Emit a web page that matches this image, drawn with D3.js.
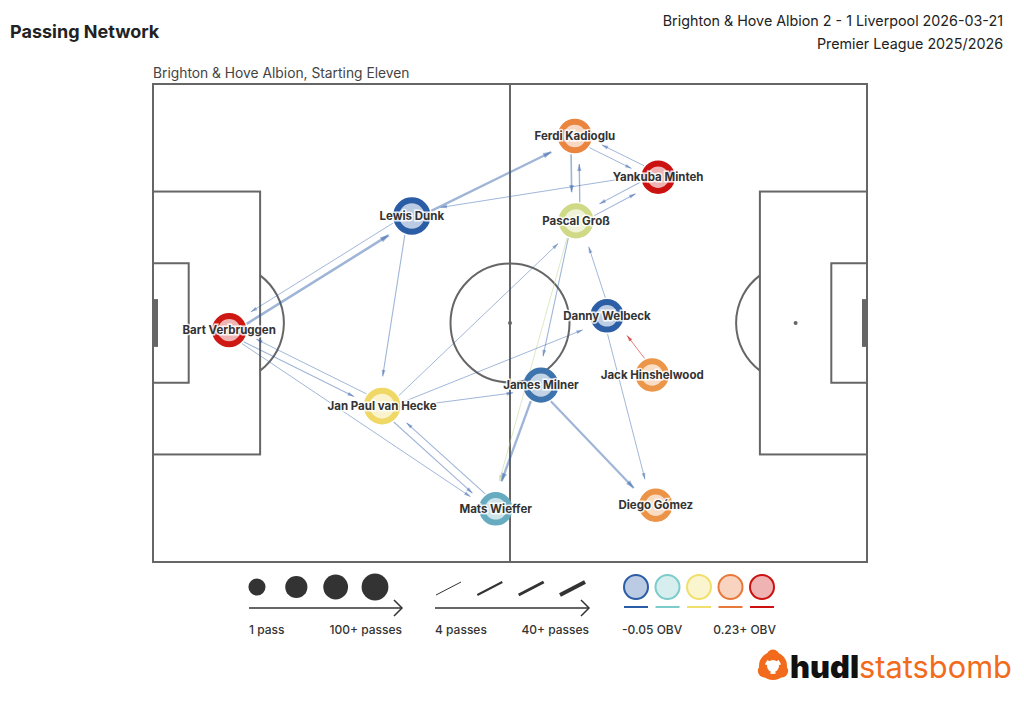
<!DOCTYPE html>
<html><head><meta charset="utf-8">
<script src="https://cdn.jsdelivr.net/npm/d3@7"></script>
<style>
body{margin:0;background:#fff;}
text{font-family:Inter,"Noto Sans",sans-serif;}
</style></head>
<body><svg id="c" width="1024" height="706"></svg>
<script>
// ---------- data ----------
const players   = ["Bart Verbruggen","Lewis Dunk","Ferdi Kadioglu","Yankuba Minteh","Pascal Groß","Danny Welbeck","Jack Hinshelwood","James Milner","Jan Paul van Hecke","Mats Wieffer","Diego Gómez"];
const playerX   = [12.8, 43.5, 70.9, 84.9, 71.1, 76.3, 83.9, 65.2, 38.5, 57.6, 84.5];
const playerY   = [41.2, 22.1, 8.7, 15.6, 22.9, 38.8, 48.7, 50.4, 53.9, 71.1, 70.5];
const playerPasses = [42, 50, 42, 40, 44, 40, 40, 44, 48, 40, 40];
const playerOBV = [0.225, -0.05, 0.152, 0.23, 0.07, -0.048, 0.14, -0.035, 0.095, 0.0, 0.142];

const edgeSource = ["Bart Verbruggen","Lewis Dunk","Bart Verbruggen","Jan Paul van Hecke","Bart Verbruggen","Lewis Dunk","Yankuba Minteh","Lewis Dunk","Ferdi Kadioglu","Pascal Groß","Ferdi Kadioglu","Yankuba Minteh","Yankuba Minteh","Pascal Groß","Danny Welbeck","Pascal Groß","Pascal Groß","Jan Paul van Hecke","Jan Paul van Hecke","Jan Paul van Hecke","James Milner","James Milner","Danny Welbeck","Jack Hinshelwood","Jan Paul van Hecke","Mats Wieffer"];
const edgeTarget = ["Lewis Dunk","Bart Verbruggen","Jan Paul van Hecke","Bart Verbruggen","Mats Wieffer","Ferdi Kadioglu","Lewis Dunk","Jan Paul van Hecke","Pascal Groß","Ferdi Kadioglu","Yankuba Minteh","Ferdi Kadioglu","Pascal Groß","Yankuba Minteh","Pascal Groß","James Milner","Mats Wieffer","Pascal Groß","Danny Welbeck","James Milner","Mats Wieffer","Diego Gómez","Diego Gómez","Danny Welbeck","Mats Wieffer","Jan Paul van Hecke"];
const edgePasses = [22, 5, 6, 5, 5, 20, 5, 6, 12, 9, 5, 5, 6, 6, 5, 6, 4, 5, 5, 6, 20, 18, 5, 4, 6, 6];
const edgeOBV    = [-0.05,-0.05,-0.05,-0.05,-0.05,-0.05,-0.05,-0.05,-0.05,-0.05,-0.05,-0.05,-0.05,-0.05,-0.05,-0.05,0.06,-0.05,-0.05,-0.05,-0.05,-0.05,-0.05,0.23,-0.05,-0.05];

const obvStops  = [-0.05, 0.02, 0.09, 0.16, 0.23];
const obvColors = ["#2b5ca6", "#7ecbcb", "#f0df6a", "#e9793a", "#cc1111"];
const legendPassSizes = [1, 33, 66, 100];
const legendLineSizes = [4, 16, 28, 40];

const titleText = "Passing Network";
const matchText = "Brighton & Hove Albion 2 - 1 Liverpool 2026-03-21";
const compText  = "Premier League 2025/2026";
const subText   = "Brighton & Hove Albion, Starting Eleven";

// ---------- setup ----------
const svg = d3.select("#c");
const x = d3.scaleLinear([0,120],[153,867]);
const y = d3.scaleLinear([0,80],[84,562]);
const color = d3.scaleLinear(obvStops, obvColors).clamp(true);
const light = c => d3.interpolateRgb(c, "#ffffff")(0.68);
const rScale = d3.scaleSqrt([0,100],[0,26.5]);
const wScale = d3.scaleLinear([4,40],[0.9,4.2]).clamp(true);

// ---------- header ----------
svg.append("text").attr("x",10).attr("y",38).attr("font-size",18).attr("font-weight",700).attr("fill","#222").text(titleText);
svg.append("text").attr("x",1003).attr("y",26).attr("text-anchor","end").attr("font-size",14.3).attr("fill","#222").text(matchText);
svg.append("text").attr("x",1003).attr("y",49).attr("text-anchor","end").attr("font-size",14.3).attr("fill","#222").text(compText);
svg.append("text").attr("x",153).attr("y",78).attr("font-size",13.8).attr("fill","#444").text(subText);

// ---------- pitch ----------
const pg = svg.append("g").attr("fill","none").attr("stroke","#666").attr("stroke-width",2);
const rect = (x0,y0,x1,y1) => pg.append("rect").attr("x",x(x0)).attr("y",y(y0)).attr("width",x(x1)-x(x0)).attr("height",y(y1)-y(y0));
rect(0,0,120,80);
pg.append("line").attr("x1",x(60)).attr("x2",x(60)).attr("y1",y(0)).attr("y2",y(80));
rect(0,18,18,62); rect(102,18,120,62);
rect(0,30,6,50); rect(114,30,120,50);
const sx = x(10)-x(0);
pg.append("circle").attr("cx",x(60)).attr("cy",y(40)).attr("r",sx);
const arc = d3.arc().innerRadius(sx).outerRadius(sx);
const ang = Math.acos(6/10);
pg.append("path").attr("transform",`translate(${x(12)},${y(40)})`)
  .attr("d",arc({startAngle:Math.PI/2-ang,endAngle:Math.PI/2+ang}));
pg.append("path").attr("transform",`translate(${x(108)},${y(40)})`)
  .attr("d",arc({startAngle:-Math.PI/2-ang,endAngle:-Math.PI/2+ang}));
svg.append("rect").attr("x",x(0)).attr("y",y(36)).attr("width",5).attr("height",y(44)-y(36)).attr("fill","#666");
svg.append("rect").attr("x",x(120)-5).attr("y",y(36)).attr("width",5).attr("height",y(44)-y(36)).attr("fill","#666");
[[12,40],[60,40],[108,40]].forEach(p=>svg.append("circle").attr("cx",x(p[0])).attr("cy",y(p[1])).attr("r",2).attr("fill","#666"));

// ---------- edges ----------
const idx = name => players.indexOf(name);
const nodeR = i => rScale(playerPasses[i]);
const eg = svg.append("g");
edgeSource.forEach((s,k)=>{
  const a = idx(s), b = idx(edgeTarget[k]);
  const x0=x(playerX[a]), y0=y(playerY[a]), x1=x(playerX[b]), y1=y(playerY[b]);
  const dx=x1-x0, dy=y1-y0, L=Math.hypot(dx,dy), ux=dx/L, uy=dy/L;
  const px=-uy*4, py=ux*4;
  const sxp = x0+ux*(nodeR(a)+1)+px, syp = y0+uy*(nodeR(a)+1)+py;
  const exp = x1-ux*(nodeR(b)+11)+px, eyp = y1-uy*(nodeR(b)+11)+py;
  const w = wScale(edgePasses[k]);
  const col = color(edgeOBV[k]);
  const op = edgeOBV[k] > 0 ? 0.6 : 0.45;
  eg.append("line").attr("x1",sxp).attr("y1",syp).attr("x2",exp).attr("y2",eyp)
    .attr("stroke",col).attr("stroke-opacity",op).attr("stroke-width",w);
  const al = 5+w*1.4, aw = 1.2+w*0.7;
  const bx = exp-ux*al, by = eyp-uy*al;
  eg.append("path").attr("d",`M${exp},${eyp}L${bx-uy*aw},${by+ux*aw}L${bx+uy*aw},${by-ux*aw}Z`)
    .attr("fill",col).attr("fill-opacity",op);
});

// ---------- nodes ----------
const ng = svg.append("g");
players.forEach((p,i)=>{
  const c = color(playerOBV[i]);
  ng.append("circle").attr("cx",x(playerX[i])).attr("cy",y(playerY[i])).attr("r",nodeR(i)-3)
    .attr("fill",light(c)).attr("stroke",c).attr("stroke-width",6);
});
players.forEach((p,i)=>{
  ng.append("text").attr("x",x(playerX[i])).attr("y",y(playerY[i])).attr("dy","0.35em")
    .attr("text-anchor","middle").attr("font-size",11.5).attr("font-weight",700)
    .attr("fill","#333").attr("stroke","#fff").attr("stroke-opacity",0.85).attr("stroke-width",3)
    .attr("paint-order","stroke").text(p);
});

// ---------- legend ----------
const lg = svg.append("g");
const legR = d3.scaleSqrt([0,100],[8,13.4]);
const lpx = d3.scalePoint(legendPassSizes.map(String),[257,375]);
legendPassSizes.forEach(v=>lg.append("circle").attr("cx",lpx(String(v))).attr("cy",587).attr("r",legR(v)).attr("fill","#333"));
const arrowLine = (x0,x1,yy)=>{
  lg.append("line").attr("x1",x0).attr("x2",x1).attr("y1",yy).attr("y2",yy).attr("stroke","#333").attr("stroke-width",1.5);
  lg.append("path").attr("d",`M${x1-8},${yy-8}L${x1},${yy}L${x1-8},${yy+8}`).attr("fill","none").attr("stroke","#333").attr("stroke-width",1.5);
};
arrowLine(249,402,608);
arrowLine(435,589,608);
const lt = (xx,anchor,t)=>lg.append("text").attr("x",xx).attr("y",634).attr("text-anchor",anchor).attr("font-size",12).attr("font-weight",500).attr("fill","#333").text(t);
lt(249,"start","1 pass"); lt(402,"end","100+ passes");
lt(435,"start","4 passes"); lt(589,"end","40+ passes");
const llx = d3.scalePoint(legendLineSizes.map(String),[448,572]);
const lw = d3.scaleLinear([4,40],[1,4]);
legendLineSizes.forEach(v=>lg.append("line").attr("x1",llx(String(v))-12).attr("x2",llx(String(v))+13).attr("y1",595).attr("y2",582)
  .attr("stroke","#333").attr("stroke-width",lw(v)));
const lcx = d3.scalePoint(obvStops.map(String),[636,762]);
obvStops.forEach(v=>{
  const c = color(v);
  lg.append("circle").attr("cx",lcx(String(v))).attr("cy",587).attr("r",12).attr("fill",light(c)).attr("stroke",c).attr("stroke-width",2);
  lg.append("line").attr("x1",lcx(String(v))-12).attr("x2",lcx(String(v))+12).attr("y1",607).attr("y2",607).attr("stroke",c).attr("stroke-width",2);
});
lt(622,"start","-0.05 OBV"); lt(776,"end","0.23+ OBV");

// ---------- logo ----------
const logo = svg.append("g").attr("transform","translate(773,666)");
logo.append("circle").attr("r",11).attr("fill","none").attr("stroke","#f26a1b").attr("stroke-width",6);
[-90,30,150].forEach(a=>{
  const t=a*Math.PI/180;
  logo.append("circle").attr("cx",Math.cos(t)*10).attr("cy",Math.sin(t)*10).attr("r",6.5).attr("fill","#f26a1b");
});
logo.append("circle").attr("r",6).attr("fill","#fff");
const lt2 = svg.append("text").attr("x",790).attr("y",678).attr("font-size",31).attr("font-family","Lato, Inter, sans-serif")
  .attr("textLength",222).attr("lengthAdjust","spacingAndGlyphs");
lt2.append("tspan").attr("font-weight",900).attr("fill","#111").text("hudl");
lt2.append("tspan").attr("font-weight",400).attr("fill","#f26a1b").text("statsbomb");
</script></body></html>
